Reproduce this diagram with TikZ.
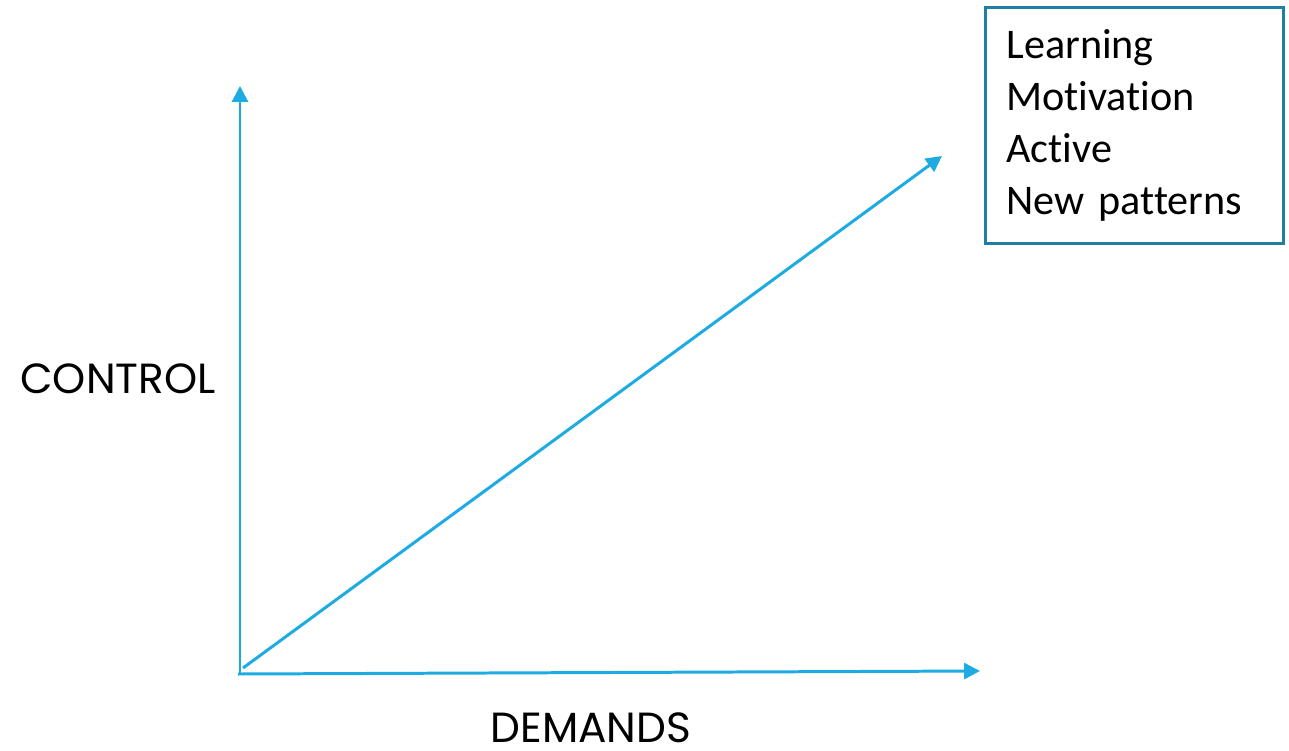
\documentclass[tikz,border=0pt]{standalone}
\usepackage{fontspec}
\setmainfont[Ligatures=NoCommon]{Carlito}
\newfontfamily\axisfont{Poppins}
\usetikzlibrary{arrows.meta}

\definecolor{axisblue}{RGB}{29,171,226}
\definecolor{boxblue}{RGB}{31,125,166}

\tikzset{
  axis/.style={draw=axisblue, line width=1.7pt, -{Triangle[length=9pt,width=9pt]}},
  axislabel/.style={font=\axisfont\fontsize{24}{28}\selectfont, inner sep=0pt},
  listbox/.style={draw=boxblue, line width=1.6pt, anchor=north west,
    minimum width=5.96cm, minimum height=4.72cm, inner xsep=0.42cm,
    text width=5.12cm, align=left, font=\fontsize{24}{29.5}\selectfont}
}

\begin{document}
\begin{tikzpicture}[x=0.02cm, y=-0.02cm]
	\useasboundingbox (0,0) rectangle (1289,751);

	% axes
	\coordinate (origin) at (240,674);
	\coordinate (ctop) at (240,86);
	\coordinate (dend) at (980,671);
	\coordinate (dstart) at (238,674);
	\draw[axis] (origin) -- (ctop);
	\draw[axis] (dstart) -- (dend);

	% diagonal towards the box
	\coordinate (dlow) at (243,668);
	\coordinate (dhigh) at (942,156);
	\draw[axis] (dlow) -- (dhigh);

	\node[axislabel] (control) at (118,379) {CONTROL};
	\node[axislabel] (demands) at (591,728) {DEMANDS};

	\node[listbox] (outcomes) at (984,6) {Learning\\Motivation\\Active\\New patterns};
\end{tikzpicture}
\end{document}
